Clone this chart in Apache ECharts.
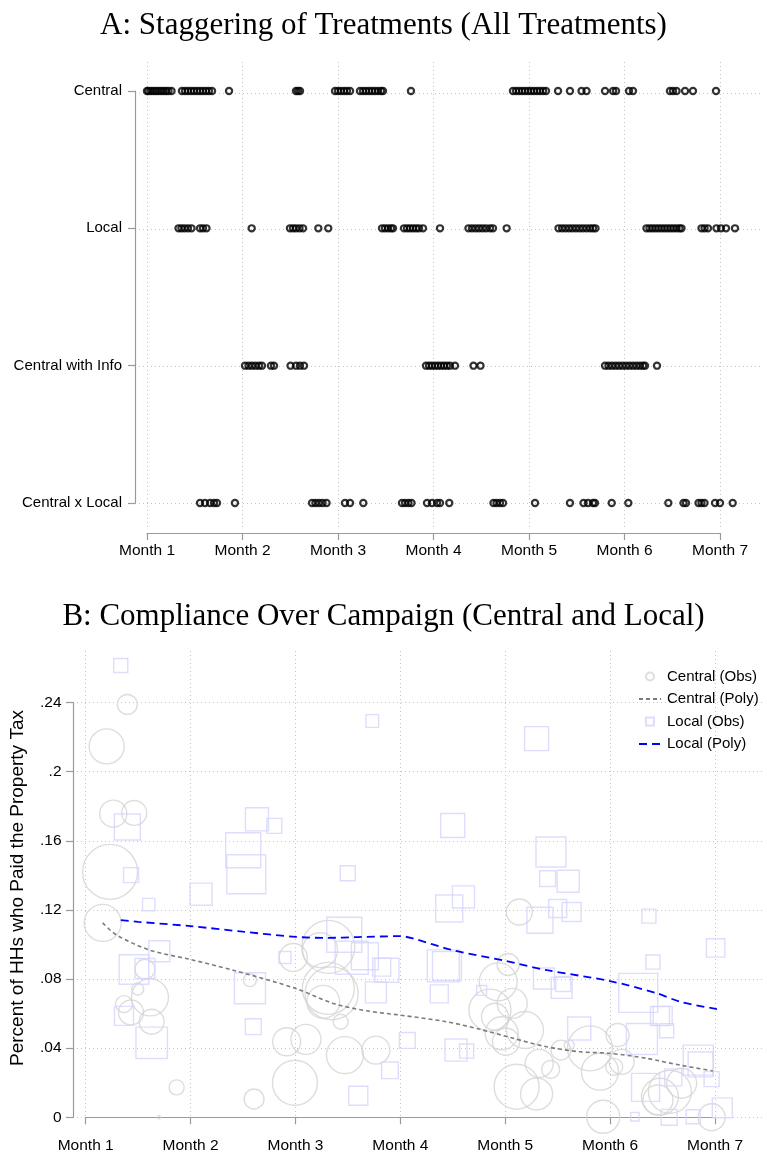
<!DOCTYPE html>
<html>
<head>
<meta charset="utf-8">
<script src="https://cdn.jsdelivr.net/npm/echarts@6/dist/echarts.min.js"></script>
<style>
  html, body { margin: 0; padding: 0; background: #fff; }
  #chart { width: 767px; height: 1156px; }
</style>
</head>
<body>
<div id="chart"></div>
<script>
// ---- Panel A: rollout dates (campaign month) for each treatment arm ----
const treatmentArms = ['Central x Local', 'Central with Info', 'Local', 'Central'];
const monthTicks = [1, 2, 3, 4, 5, 6, 7];

const centralDates = [1.0, 1.016, 1.042, 1.068, 1.094, 1.12, 1.147, 1.173, 1.199, 1.225, 1.257,
  1.366, 1.398, 1.429, 1.461, 1.492, 1.524, 1.555, 1.586, 1.618, 1.649, 1.681, 1.859,
  2.56, 2.581, 2.602, 2.969, 3.0, 3.031, 3.063, 3.094, 3.126, 3.23, 3.262, 3.293, 3.325,
  3.356, 3.387, 3.419, 3.45, 3.471, 3.764, 4.832, 4.864, 4.895, 4.927, 4.958, 4.99, 5.021,
  5.052, 5.084, 5.115, 5.147, 5.178, 5.304, 5.429, 5.55, 5.602, 5.796, 5.88, 5.911, 6.047,
  6.089, 6.476, 6.508, 6.545, 6.634, 6.717, 6.958];

const localDates = [1.33, 1.361, 1.393, 1.429, 1.466, 1.555, 1.586, 1.623, 2.096, 2.497, 2.529,
  2.56, 2.597, 2.634, 2.794, 2.898, 3.461, 3.492, 3.524, 3.555, 3.576, 3.691, 3.723, 3.754,
  3.785, 3.817, 3.848, 3.89, 4.068, 4.366, 4.403, 4.44, 4.476, 4.513, 4.55, 4.592, 4.623,
  4.766, 5.309, 5.346, 5.382, 5.419, 5.455, 5.492, 5.529, 5.565, 5.602, 5.639, 5.67, 5.696,
  6.23, 6.262, 6.293, 6.325, 6.356, 6.387, 6.419, 6.45, 6.482, 6.513, 6.545, 6.576, 6.597,
  6.806, 6.838, 6.874, 6.963, 7.01, 7.063, 7.157];

const centralInfoDates = [2.026, 2.063, 2.099, 2.136, 2.173, 2.204, 2.298, 2.33, 2.503, 2.56,
  2.602, 2.644, 3.921, 3.953, 3.984, 4.016, 4.047, 4.079, 4.11, 4.141, 4.173, 4.225, 4.419,
  4.492, 5.796, 5.832, 5.869, 5.906, 5.942, 5.979, 6.016, 6.052, 6.089, 6.126, 6.162, 6.194,
  6.215, 6.34];

const centralLocalDates = [1.555, 1.607, 1.66, 1.702, 1.733, 1.921, 2.728, 2.764, 2.801, 2.838,
  2.88, 3.073, 3.126, 3.265, 3.67, 3.702, 3.738, 3.77, 3.932, 3.984, 4.037, 4.068, 4.165,
  4.628, 4.66, 4.696, 4.728, 5.063, 5.429, 5.571, 5.618, 5.67, 5.691, 5.866, 6.04, 6.459,
  6.618, 6.644, 6.775, 6.806, 6.838, 6.948, 7.0, 7.133];

// ---- Panel B: [month, share of households that paid, households in cell] ----
const complianceTicks = [0, 0.04, 0.08, 0.12, 0.16, 0.2, 0.24];

const centralObs = [
  [1.397, 0.2389, 44], [1.2, 0.2146, 136], [1.263, 0.1757, 81], [1.463, 0.1761, 69],
  [1.232, 0.142, 336], [1.162, 0.1125, 152], [1.565, 0.0857, 44], [1.496, 0.0742, 16],
  [1.613, 0.0694, 152], [1.365, 0.0655, 32], [1.432, 0.0607, 69], [1.629, 0.0553, 69],
  [1.867, 0.0173, 25], [1.699, 0.0, 1], [2.566, 0.0794, 19], [2.605, 0.0106, 44],
  [2.979, 0.0925, 87], [2.995, 0.02, 225], [2.916, 0.0437, 87], [3.1, 0.0451, 100],
  [3.234, 0.0967, 136], [3.313, 0.0986, 312], [3.313, 0.0746, 300], [3.345, 0.0717, 312],
  [3.265, 0.0668, 121], [3.431, 0.0553, 25], [3.472, 0.036, 152], [3.767, 0.0389, 87],
  [5.134, 0.1188, 75], [5.028, 0.0884, 54], [4.933, 0.0784, 160], [4.854, 0.062, 196],
  [5.067, 0.0659, 100], [4.902, 0.0582, 81], [4.966, 0.0486, 121], [5.007, 0.0437, 81],
  [5.188, 0.0505, 152], [5.808, 0.0399, 225], [6.071, 0.0476, 59], [5.531, 0.0389, 44],
  [5.61, 0.0418, 11], [6.11, 0.0321, 69], [6.039, 0.0292, 32], [5.903, 0.0264, 152],
  [5.324, 0.0312, 87], [5.433, 0.0277, 36], [5.109, 0.0177, 225], [5.299, 0.0135, 114],
  [5.934, 0.0003, 121], [6.475, 0.0119, 152], [6.57, 0.0148, 205], [6.682, 0.0197, 100],
  [6.968, 0.0, 81], [6.456, 0.01, 100]
];

const localObs = [
  [1.334, 0.2614, 22], [3.732, 0.2293, 18], [1.397, 0.168, 75], [1.432, 0.1401, 25],
  [2.099, 0.1291, 54], [2.502, 0.1545, 136], [2.531, 0.1406, 169], [2.633, 0.1724, 59],
  [2.798, 0.1686, 25], [3.498, 0.1412, 25], [5.299, 0.2191, 64], [4.499, 0.1688, 64],
  [5.436, 0.1535, 100], [5.404, 0.1381, 28], [5.6, 0.1366, 54], [4.466, 0.1208, 81],
  [4.602, 0.1275, 54], [5.331, 0.114, 75], [5.5, 0.1208, 36], [5.633, 0.1188, 40],
  [6.37, 0.1164, 22], [7.006, 0.098, 38], [4.409, 0.0876, 114], [4.444, 0.0875, 93],
  [5.369, 0.0803, 49], [5.538, 0.0749, 49], [5.553, 0.0771, 25], [6.268, 0.072, 169],
  [6.408, 0.0898, 22], [4.371, 0.0714, 36], [4.775, 0.0734, 11], [6.475, 0.0586, 40],
  [6.501, 0.0587, 40], [6.539, 0.0501, 22], [6.303, 0.0453, 107], [5.705, 0.0514, 59],
  [6.338, 0.0173, 87], [6.602, 0.0231, 32], [6.84, 0.0331, 100], [6.863, 0.0306, 69],
  [6.968, 0.0221, 25], [7.069, 0.0055, 44], [6.792, 0.0003, 22], [6.563, 0.0, 28],
  [6.236, 0.0003, 8], [3.901, 0.0272, 31], [4.066, 0.0445, 28], [4.53, 0.0389, 54],
  [4.632, 0.0383, 22], [1.601, 0.1231, 17], [1.702, 0.0961, 49], [1.46, 0.0855, 97],
  [1.565, 0.0861, 44], [1.365, 0.0587, 40], [1.629, 0.0431, 110], [2.566, 0.0747, 107],
  [2.598, 0.0524, 28], [2.9, 0.0925, 16], [3.465, 0.1056, 136], [3.662, 0.0932, 81],
  [3.536, 0.0923, 121], [3.822, 0.0869, 36], [3.872, 0.0851, 64], [3.767, 0.0723, 49],
  [3.599, 0.0125, 40]
];

// fitted compliance trends
const centralPoly = [
  [1.162, 0.1125], [1.295, 0.1054], [1.613, 0.0967], [2.0, 0.0913], [2.407, 0.0851],
  [3.0, 0.0746], [3.36, 0.0659], [3.678, 0.0616], [4.0, 0.0591], [4.44, 0.0553],
  [4.759, 0.0509], [5.077, 0.0457], [5.394, 0.0408], [5.712, 0.0379], [6.0, 0.037],
  [6.35, 0.0341], [6.665, 0.0302], [6.98, 0.0268]
];
const localPoly = [
  [1.334, 0.1141], [1.5, 0.1131], [2.0, 0.1106], [2.5, 0.1074], [3.0, 0.1044],
  [3.3, 0.1038], [3.6, 0.1043], [4.0, 0.1048], [4.12, 0.1035], [4.5, 0.0967],
  [5.0, 0.0905], [5.4, 0.0851], [6.0, 0.0788], [6.45, 0.0717], [6.67, 0.0668], [7.078, 0.062]
];

// ---- styling ----
const SANS = 'Liberation Sans';
const SERIF = 'Liberation Serif';
const AXIS_GREY = '#9a9a9a';
const GRID_DOTS = { show: true, lineStyle: { color: '#c4c4c4', width: 1, type: [1, 3] } };
const tickLabel = { fontFamily: SANS, fontSize: 15.5, color: '#000' };
const titleFont = { fontFamily: SERIF, fontSize: 31, fontWeight: 'normal', color: '#000' };
const SQUARE_ICON = 'path://M0,0H10V10H0Z';

const armDates = {
  'Central': centralDates,
  'Local': localDates,
  'Central with Info': centralInfoDates,
  'Central x Local': centralLocalDates
};
const staggerData = [];
treatmentArms.forEach(arm => armDates[arm].forEach(m => staggerData.push([m, arm])));

const shareLabel = v => (v === 0 ? '0' : String(+v.toFixed(2)).replace(/^0\./, '.'));
const bubble = d => 3 * Math.sqrt(d[2]);

// hidden axis used only to draw dotted grid lines over the full plot region
function gridAxis(gridIndex, min, max, ticks, extra) {
  return Object.assign({
    type: 'value', gridIndex, min, max,
    axisLine: { show: false },
    axisTick: { show: false, customValues: ticks },
    axisLabel: { show: false, customValues: ticks },
    splitLine: GRID_DOTS
  }, extra || {});
}

const chart = echarts.init(document.getElementById('chart'), null, { renderer: 'canvas' });

chart.setOption({
  backgroundColor: '#fff',
  animation: false,
  title: [
    { text: 'A: Staggering of Treatments (All Treatments)', left: 'center', top: 5, textStyle: titleFont },
    { text: 'B: Compliance Over Campaign (Central and Local)', left: 'center', top: 596, textStyle: titleFont }
  ],
  legend: {
    orient: 'vertical', left: 633, top: 664, itemWidth: 22, itemHeight: 8, itemGap: 7.5,
    selectedMode: false,
    textStyle: { fontFamily: SANS, fontSize: 15, color: '#000', padding: [0, 0, 0, 1] },
    data: [
      { name: 'Central (Obs)' },
      { name: 'Central (Poly)', itemStyle: { opacity: 0 } },
      { name: 'Local (Obs)', icon: SQUARE_ICON },
      { name: 'Local (Poly)', itemStyle: { opacity: 0 } }
    ]
  },
  grid: [
    { left: 135, right: 7, top: 62, bottom: 628, outerBoundsMode: 'none' },
    { left: 147, right: 47, top: 91, bottom: 653, outerBoundsMode: 'none' },
    { left: 73, right: 2, top: 651, bottom: 31, outerBoundsMode: 'none' },
    { left: 85.7, right: 52, top: 702.5, bottom: 38.7, outerBoundsMode: 'none' }
  ],
  xAxis: [
    gridAxis(0, 0.8743, 7.4188, monthTicks),
    { type: 'value', gridIndex: 1, min: 1, max: 7, interval: 1, offset: 30,
      axisLine: { show: true, lineStyle: { color: AXIS_GREY, width: 1.2 } },
      axisTick: { show: true, length: 7, lineStyle: { color: AXIS_GREY, width: 1.2 } },
      axisLabel: Object.assign({ margin: 10, formatter: v => 'Month ' + v }, tickLabel),
      splitLine: { show: false } },
    gridAxis(2, 0.879, 7.477, monthTicks),
    { type: 'value', gridIndex: 3, min: 1, max: 7, interval: 1, offset: 11.7,
      axisLine: { show: true, lineStyle: { color: AXIS_GREY, width: 1.2 } },
      axisTick: { show: true, length: 7, lineStyle: { color: AXIS_GREY, width: 1.2 } },
      axisLabel: Object.assign({ margin: 9, formatter: v => 'Month ' + v }, tickLabel),
      splitLine: { show: false } }
  ],
  yAxis: [
    gridAxis(0, -0.182, 3.2257, [0, 1, 2, 3]),
    { type: 'category', gridIndex: 1, data: treatmentArms, boundaryGap: false, offset: 12,
      axisLine: { show: true, lineStyle: { color: AXIS_GREY, width: 1.2 } },
      axisTick: { show: true, length: 7, lineStyle: { color: AXIS_GREY, width: 1.2 } },
      axisLabel: Object.assign({}, tickLabel, { margin: 13, fontSize: 15 }),
      splitLine: { show: false } },
    gridAxis(2, -0.00445, 0.2698, complianceTicks, {
      name: 'Percent of HHs who Paid the Property Tax', nameLocation: 'middle', nameGap: 46,
      nameTextStyle: { fontFamily: SANS, fontSize: 19, color: '#000' }
    }),
    { type: 'value', gridIndex: 3, min: 0, max: 0.24, interval: 0.04, offset: 12.7,
      axisLine: { show: true, lineStyle: { color: AXIS_GREY, width: 1.2 } },
      axisTick: { show: true, length: 7, lineStyle: { color: AXIS_GREY, width: 1.2 } },
      axisLabel: Object.assign({ margin: 11.5, formatter: shareLabel }, tickLabel),
      splitLine: { show: false } }
  ],
  series: [
    { name: 'Treatment start', type: 'scatter', xAxisIndex: 1, yAxisIndex: 1, clip: false,
      symbol: 'circle', symbolSize: 6.2, data: staggerData,
      itemStyle: { color: 'rgba(0,0,0,0)', borderColor: '#000', borderWidth: 2.2 } },
    { name: 'Central (Obs)', type: 'scatter', xAxisIndex: 3, yAxisIndex: 3, clip: false,
      symbol: 'circle', symbolSize: bubble, data: centralObs,
      itemStyle: { color: 'rgba(0,0,0,0)', borderColor: '#d4d4d4', borderWidth: 1.4 } },
    { name: 'Local (Obs)', type: 'scatter', xAxisIndex: 3, yAxisIndex: 3, clip: false,
      symbol: 'rect', symbolSize: bubble, data: localObs,
      itemStyle: { color: 'rgba(0,0,0,0)', borderColor: '#d4d4fb', borderWidth: 1.4 } },
    { name: 'Central (Poly)', type: 'line', xAxisIndex: 3, yAxisIndex: 3, data: centralPoly,
      smooth: 0.3, symbol: 'none', z: 5,
      lineStyle: { color: '#7c7c7c', width: 1.6, type: [4, 3] },
      itemStyle: { color: '#7c7c7c' } },
    { name: 'Local (Poly)', type: 'line', xAxisIndex: 3, yAxisIndex: 3, data: localPoly,
      smooth: 0.3, symbol: 'none', z: 5,
      lineStyle: { color: '#0000ff', width: 1.8, type: [8, 5] },
      itemStyle: { color: '#0000ff' } }
  ]
});
</script>
</body>
</html>
